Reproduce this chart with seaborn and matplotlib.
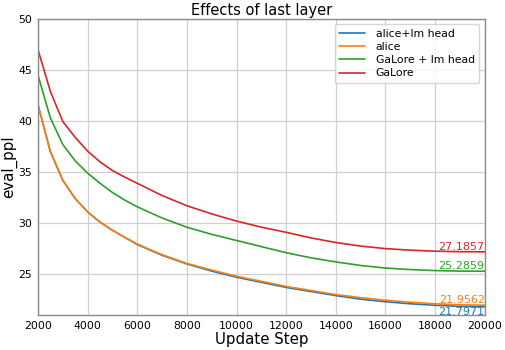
import numpy as np
import pandas as pd
import seaborn as sns
from matplotlib import pyplot as plt

steps = [2000, 2500, 3000, 3500, 4000, 4500, 5000, 5500, 6000, 7000, 8000, 9000,
         10000, 11000, 12000, 13000, 14000, 15000, 16000, 17000, 18000, 19000, 20000]
alice_lm = [41.6, 37.0, 34.2, 32.4, 31.1, 30.1, 29.3, 28.6, 27.9, 26.85, 26.0, 25.3,
            24.7, 24.2, 23.7, 23.3, 22.9, 22.55, 22.3, 22.1, 21.95, 21.85, 21.7971]
alice = [41.6, 37.0, 34.2, 32.4, 31.1, 30.1, 29.3, 28.6, 27.95, 26.9, 26.05, 25.4,
         24.8, 24.3, 23.8, 23.4, 23.0, 22.7, 22.45, 22.25, 22.1, 22.0, 21.9562]
galore_lm = [44.5, 40.3, 37.7, 36.1, 34.9, 33.9, 33.0, 32.25, 31.6, 30.5, 29.6, 28.9,
             28.3, 27.7, 27.1, 26.6, 26.2, 25.85, 25.6, 25.45, 25.35, 25.3, 25.2859]
galore = [47.0, 42.9, 39.95, 38.4, 37.05, 36.0, 35.15, 34.5, 33.9, 32.7, 31.7, 30.9,
          30.2, 29.6, 29.1, 28.55, 28.1, 27.75, 27.5, 27.35, 27.25, 27.2, 27.1857]
labels = ['alice+lm head', 'alice', 'GaLore + lm head', 'GaLore']

series = [alice_lm, alice, galore_lm, galore]
df = pd.concat([pd.DataFrame({'step': steps, 'ppl': s, 'run': l}) for s, l in zip(series, labels)])

sns.set_style('whitegrid')
plt.rcParams['font.family'] = ['DejaVu Sans']
plt.rcParams['text.color'] = 'black'
plt.rcParams['xtick.color'] = 'black'
plt.rcParams['ytick.color'] = 'black'
plt.rcParams['axes.labelcolor'] = 'black'
colors = sns.color_palette('tab10', 4)

fig = plt.figure(figsize=(5.06, 3.5), dpi=100)
ax = fig.add_axes([0.075, 0.1, 0.883, 0.846])
sns.lineplot(data=df, x='step', y='ppl', hue='run', palette=colors, linewidth=1.2, ax=ax)

# final values
for s, c in zip(series, colors):
    va = 'top' if s is alice_lm else 'bottom'
    ax.text(steps[-1], s[-1], '%.4f' % s[-1], color=c, ha='right', va=va, fontsize=8)

ax.set_xlim(2000, 20000)
ax.set_ylim(21, 50)
ax.set_xticks(range(2000, 20001, 2000))
ax.set_yticks(range(25, 51, 5))
ax.tick_params(labelsize=7.8, length=0, pad=4)
ax.grid(color='#d0d0d0', linewidth=0.9)
for sp in ax.spines.values():
    sp.set_color('#8a8a8a')
    sp.set_linewidth(1.0)
ax.set_title('Effects of last layer', fontsize=10.5, pad=3)
ax.set_xlabel('Update Step', fontsize=10.8, labelpad=1)
ax.set_ylabel('eval_ppl', fontsize=10.8, labelpad=1)
ax.legend(loc='upper right', fontsize=7.8, handlelength=2.4, borderaxespad=0.5,
          labelspacing=0.3, handletextpad=1.0)

plt.savefig('out.png', dpi=100)
